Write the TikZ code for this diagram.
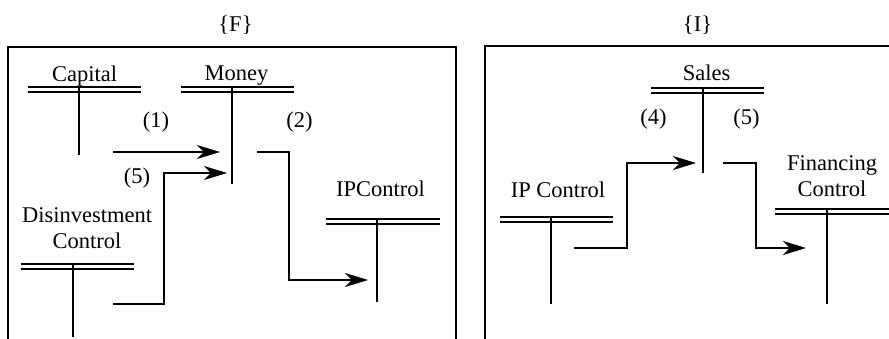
\documentclass[tikz,border=0pt]{standalone}
\usepackage{fontspec}
\setmainfont{Liberation Serif}
\usetikzlibrary{arrows.meta}

% double bar of a store, from x1 to x2 at height y
\newcommand{\storebar}[4][]{\draw[bar,#1] (#2,#4)--(#3,#4) (#2,#4+5)--(#3,#4+5);}

\tikzset{
  lbl/.style={anchor=base,font=\fontsize{22.5}{26}\selectfont,inner sep=0pt,align=center},
  frame/.style={line width=2pt},
  bar/.style={line width=1.7pt},
  stem/.style={line width=1.4pt},
  flow/.style={line width=1.4pt,-{Stealth[length=23pt,width=14pt,inset=7pt]}},
}

\begin{document}
\begin{tikzpicture}[x=1pt,y=-1pt]
\useasboundingbox (0,0) rectangle (889,339);

% ---- panel {F}
\draw[frame] (8,339)--(8,47)--(456,47)--(456,339);
\node[lbl] (titleF) at (235.5,32) {\{F\}};

\node[lbl] (capital) at (84.5,82) {Capital};
\node[lbl] (money) at (236.5,81) {Money};
\node[lbl] (ipcontrol) at (380.5,197) {IPControl};
\node[lbl] (disinvest) at (87,249) {Disinvestment\\Control};

\storebar{28}{141}{87}
\storebar{181}{294}{87}
\storebar{326}{440}{219}
\storebar{21}{134}{264}

\coordinate (capital-top) at (79,87);
\coordinate (capital-bot) at (79,155);
\coordinate (money-top) at (232,87);
\coordinate (money-bot) at (232,184);
\coordinate (ipcontrol-top) at (377,219);
\coordinate (ipcontrol-bot) at (377,302);
\coordinate (disinvest-top) at (73,264);
\coordinate (disinvest-bot) at (73,337);

\draw[stem] (capital-top)--(capital-bot);
\draw[stem] (money-top)--(money-bot);
\draw[stem] (ipcontrol-top)--(ipcontrol-bot);
\draw[stem] (disinvest-top)--(disinvest-bot);

\coordinate (f1-out) at (113,152);
\coordinate (f1-in) at (220,152);
\coordinate (f5-out) at (113,304);
\coordinate (f5-in) at (227,173);
\coordinate (f2-out) at (257,152);
\coordinate (f2-in) at (368,280);

\draw[flow] (f1-out)--(f1-in);
\draw[flow] (f5-out)--(164,304)--(164,173)--(f5-in);
\draw[flow] (f2-out)--(289,152)--(289,280)--(f2-in);

\node[lbl] (flowone) at (156,128) {(1)};
\node[lbl] (flowtwo) at (299.5,128) {(2)};
\node[lbl] (flowfive) at (137,184) {(5)};

% ---- panel {I}
\draw[frame] (485,339)--(485,46)--(895,46);
\node[lbl] (titleI) at (697.5,32) {\{I\}};

\node[lbl] (sales) at (706.5,81) {Sales};
\node[lbl] (ipcontrolI) at (558,198) {IP Control};
\node[lbl] (financing) at (832,197) {Financing\\Control};

\storebar{651}{764}{88}
\storebar{500}{613}{217}
\storebar{775}{895}{209}

\coordinate (sales-top) at (703,88);
\coordinate (sales-bot) at (703,173);
\coordinate (ipcontrolI-top) at (551,217);
\coordinate (ipcontrolI-bot) at (551,304);
\coordinate (financing-top) at (827,209);
\coordinate (financing-bot) at (827,304);

\draw[stem] (sales-top)--(sales-bot);
\draw[stem] (ipcontrolI-top)--(ipcontrolI-bot);
\draw[stem,line width=2pt] (financing-top)--(financing-bot);

\coordinate (f4-out) at (574,248);
\coordinate (f4-in) at (696,163);
\coordinate (f5I-out) at (723,163);
\coordinate (f5I-in) at (806,248);

\draw[flow,line width=2pt] (f4-out)--(627,248)--(627,163)--(f4-in);
\draw[flow,line width=2pt] (f5I-out)--(756,163)--(756,248)--(f5I-in);

\node[lbl] (flowfour) at (653.5,125) {(4)};
\node[lbl] (flowfiveI) at (746.5,125) {(5)};

\end{tikzpicture}
\end{document}
